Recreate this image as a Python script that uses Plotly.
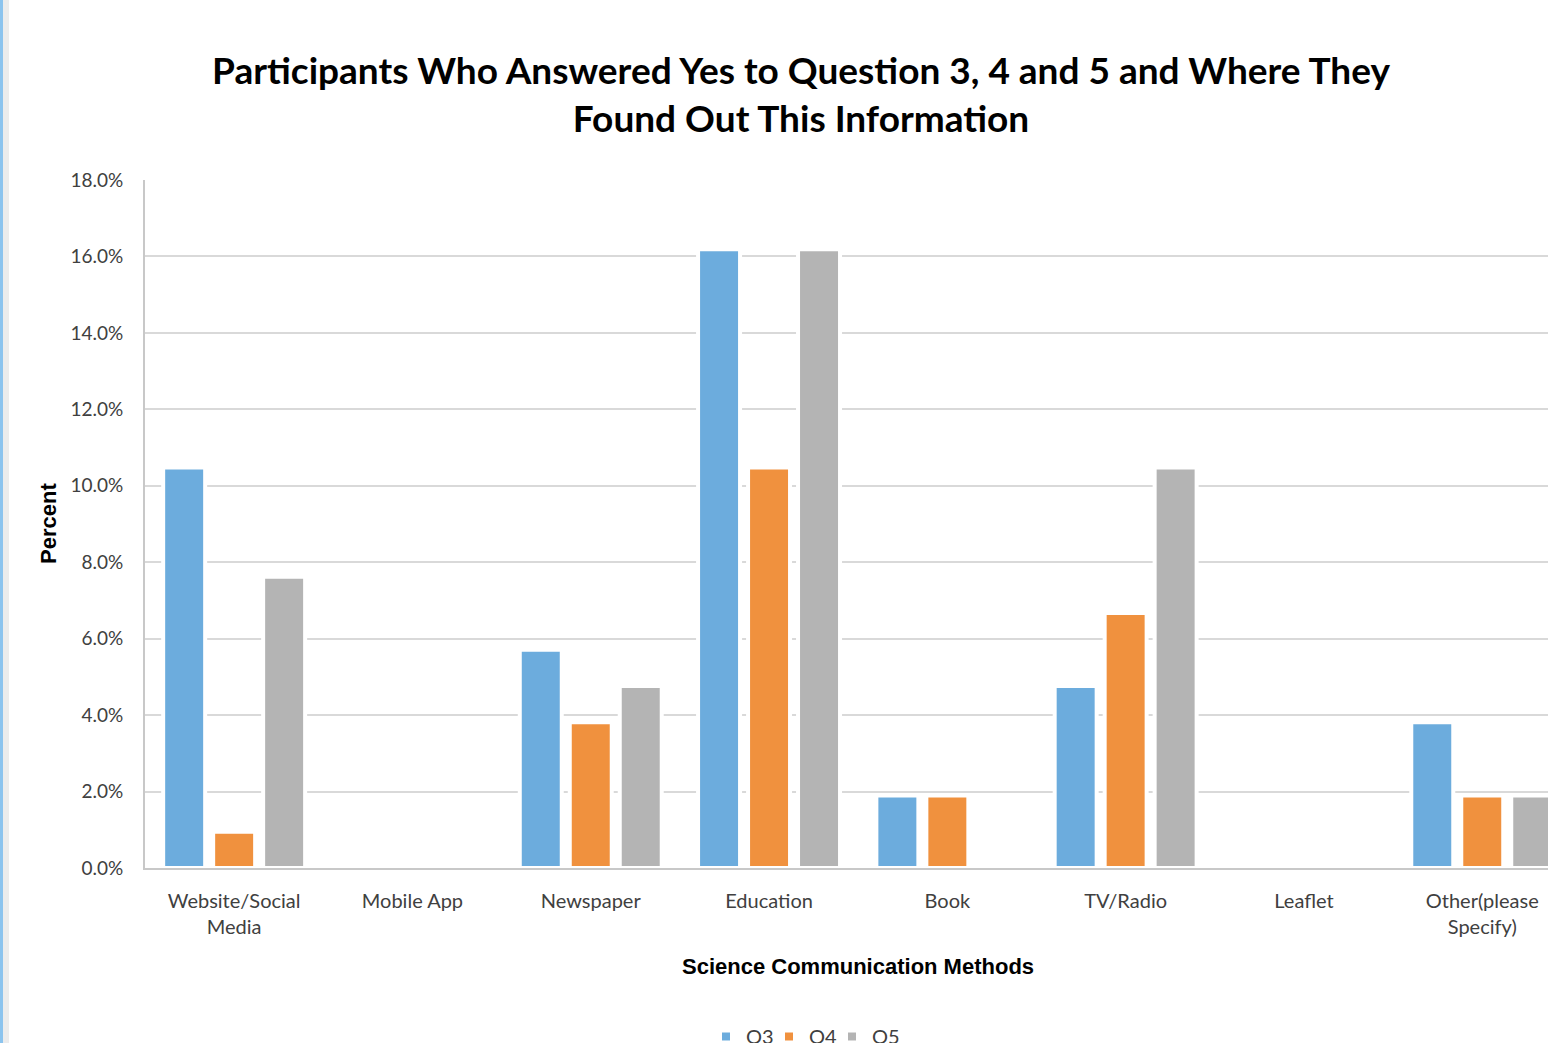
import plotly.graph_objects as go

categories = ["Website/Social<br>Media", "Mobile App", "Newspaper", "Education",
              "Book", "TV/Radio", "Leaflet", "Other(please<br>Specify)"]
q3 = [10.48, 0, 5.71, 16.19, 1.90, 4.76, 0, 3.81]
q4 = [0.95, 0, 3.81, 10.48, 1.90, 6.67, 0, 1.90]
q5 = [7.62, 0, 4.76, 16.19, 0, 10.48, 0, 1.90]
series_names = ["Q3", "Q4", "Q5"]
colors = ["#6CACDD", "#F0913E", "#B4B4B4"]

W, H = 1548, 1043
ML, MR, MT, MB = 145, 0, 180, 175
PW = W - ML - MR
PH = H - MT - MB

fig = go.Figure()
for name, vals, col in zip(series_names, [q3, q4, q5], colors):
    fig.add_trace(go.Bar(
        x=list(range(len(categories))), y=vals, name=name,
        marker=dict(color=col, line=dict(color="white", width=4)),
    ))
# spacer legend entry (invisible) so the last legend label is not clipped
fig.add_trace(go.Scatter(x=[None], y=[None], mode="markers", name=" ",
                         marker=dict(color="rgba(0,0,0,0)"), hoverinfo="skip"))

yfont = dict(family="Lato", size=19, color="#404040")
xfont = dict(family="Lato", size=20, color="#404040")

fig.update_layout(
    width=W, height=H,
    margin=dict(l=ML, r=MR, t=MT, b=MB, autoexpand=False),
    paper_bgcolor="white", plot_bgcolor="white",
    barmode="group", bargap=0.159, bargroupgap=0.16,
    title=dict(
        text="Participants Who Answered Yes to Question 3, 4 and 5 and Where They<br>Found Out This Information",
        font=dict(family="Lato", size=37, color="black", weight="bold"),
        x=801 / W, xanchor="center", xref="container",
        y=1 - 84 / H, yanchor="top", yref="container",
    ),
    xaxis=dict(
        range=[-0.5, -0.5 + PW / 178.3],
        tickmode="array", tickvals=list(range(len(categories))), ticktext=categories,
        tickfont=xfont, showgrid=False,
        showline=True, linecolor="#C8C8C8", linewidth=2,
        ticks="outside", ticklen=14, tickcolor="rgba(0,0,0,0)",
        zeroline=False,
    ),
    yaxis=dict(
        range=[0, 18], dtick=2, tick0=0, tickformat=".1f", ticksuffix="%",
        tickfont=yfont, showgrid=True, gridcolor="#D9D9D9", gridwidth=2,
        showline=True, linecolor="#C8C8C8", linewidth=2, zeroline=False,
        ticks="outside", ticklen=16, tickcolor="rgba(0,0,0,0)",
    ),
    showlegend=True,
    legend=dict(
        orientation="h", x=(706 - ML) / PW, xanchor="left",
        y=-(1017 - (H - MB)) / PH, yanchor="top",
        font=dict(family="Lato", size=20, color="#404040"),
        traceorder="normal", entrywidth=18, entrywidthmode="pixels",
    ),
    annotations=[
        dict(text="Science Communication Methods", xref="x", x=3.5,
             yref="paper", y=-(966 - (H - MB)) / PH, yanchor="middle", xanchor="center",
             showarrow=False, font=dict(family="Liberation Sans", size=22, color="black", weight="bold")),
        dict(text="Percent", xref="paper", x=(48 - ML) / PW, xanchor="center",
             yref="paper", y=0.5, yanchor="middle", textangle=-90,
             showarrow=False, font=dict(family="Liberation Sans", size=22, color="black", weight="bold")),
    ],
    shapes=[
        dict(type="rect", xref="paper", yref="paper",
             x0=(3 - ML) / PW, x1=(9 - ML) / PW, y0=-MB / PH, y1=1 + MT / PH,
             fillcolor="#ECECEC", line=dict(width=0), layer="above"),
        dict(type="rect", xref="paper", yref="paper",
             x0=(0 - ML) / PW, x1=(3 - ML) / PW, y0=-MB / PH, y1=1 + MT / PH,
             fillcolor="#8CC4EE", line=dict(width=0), layer="above"),
    ],
)

fig.write_html("out.html")
